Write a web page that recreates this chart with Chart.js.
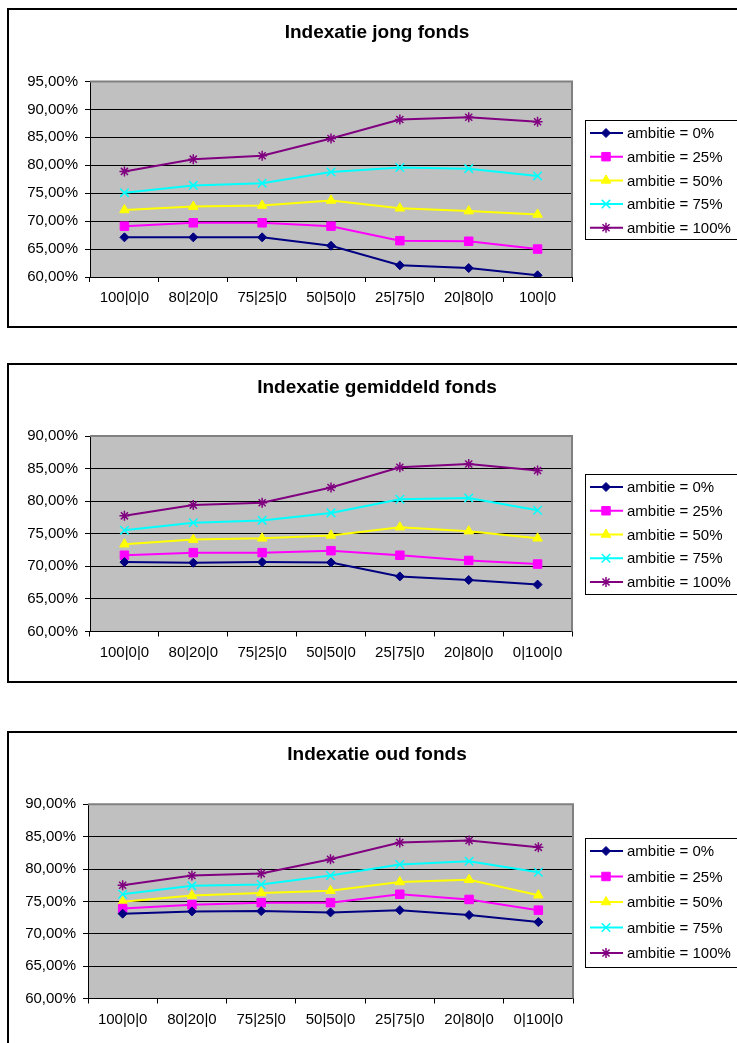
<!DOCTYPE html>
<html>
<head>
<meta charset="utf-8">
<title>Indexatie fondsen</title>
<script src="https://cdn.jsdelivr.net/npm/chart.js@4.4.0/dist/chart.umd.min.js"></script>
<style>
  html, body { margin: 0; padding: 0; background: #fff; overflow: hidden; }
  body { position: relative; width: 737px; height: 1043px; }
  .graph { position: absolute; left: 7px; width: 740px; height: 320px; border: 2px solid #000; box-sizing: border-box; background: #fff; }
  .graph canvas { display: block; }
</style>
</head>
<body>
<div class="graph" style="top:8px"><canvas id="chart1" width="736" height="316"></canvas></div>
<div class="graph" style="top:363px"><canvas id="chart2" width="736" height="316"></canvas></div>
<div class="graph" style="top:731px"><canvas id="chart3" width="736" height="316"></canvas></div>
<script>
// categories
const labelsJong = ['100|0|0', '80|20|0', '75|25|0', '50|50|0', '25|75|0', '20|80|0', '100|0'];
const labelsOther = ['100|0|0', '80|20|0', '75|25|0', '50|50|0', '25|75|0', '20|80|0', '0|100|0'];
const seriesNames = ['ambitie = 0%', 'ambitie = 25%', 'ambitie = 50%', 'ambitie = 75%', 'ambitie = 100%'];

// values in percent
const jong0 = [67.1, 67.1, 67.1, 65.6, 62.1, 61.6, 60.3];
const jong25 = [69.1, 69.7, 69.7, 69.1, 66.5, 66.4, 65.0];
const jong50 = [72.0, 72.6, 72.8, 73.7, 72.3, 71.8, 71.2];
const jong75 = [75.1, 76.4, 76.8, 78.8, 79.6, 79.4, 78.1];
const jong100 = [78.9, 81.1, 81.7, 84.8, 88.2, 88.6, 87.8];

const gem0 = [70.65, 70.55, 70.65, 70.6, 68.45, 67.9, 67.2];
const gem25 = [71.7, 72.1, 72.1, 72.4, 71.7, 70.9, 70.35];
const gem50 = [73.4, 74.1, 74.3, 74.75, 76.0, 75.4, 74.3];
const gem75 = [75.55, 76.7, 77.05, 78.2, 80.3, 80.5, 78.6];
const gem100 = [77.75, 79.4, 79.75, 82.1, 85.2, 85.7, 84.7];

const oud0 = [73.1, 73.45, 73.5, 73.3, 73.65, 72.9, 71.8];
const oud25 = [73.9, 74.5, 74.8, 74.8, 76.1, 75.3, 73.65];
const oud50 = [74.95, 75.9, 76.3, 76.65, 78.0, 78.35, 75.95];
const oud75 = [76.1, 77.4, 77.6, 79.0, 80.7, 81.2, 79.5];
const oud100 = [77.5, 79.0, 79.3, 81.5, 84.1, 84.4, 83.35];

// y axis ranges
const yJong = { min: 60, max: 95, step: 5 };
const yOther = { min: 60, max: 90, step: 5 };

const seriesColors = ['#000080', '#ff00ff', '#ffff00', '#00ffff', '#800080'];
const seriesMarkers = ['rectRot', 'rect', 'triangle', 'crossRot', 'star'];
const markerSizes = [4.5, 6, 5.5, 6, 5];
const markerBorders = [1, 1, 1, 1.5, 1.5];

const FONT = "'Liberation Sans', Arial, sans-serif";

// grey plot area like the spreadsheet
const plotBackground = {
    id: 'plotBackground',
    beforeDraw(chart) {
        const a = chart.chartArea;
        const ctx = chart.ctx;
        ctx.save();
        ctx.fillStyle = '#c0c0c0';
        ctx.fillRect(a.left, a.top, a.right - a.left, a.bottom - a.top);
        ctx.restore();
    },
    beforeDatasetsDraw(chart) {
        const a = chart.chartArea;
        const ctx = chart.ctx;
        ctx.save();
        ctx.strokeStyle = '#808080';
        ctx.lineWidth = 2;
        ctx.beginPath();
        ctx.moveTo(a.left, a.top);
        ctx.lineTo(a.right, a.top);
        ctx.lineTo(a.right, a.bottom);
        ctx.stroke();
        ctx.restore();
    }
};

// boxed legend with line + marker samples
const boxLegend = {
    id: 'boxLegend',
    afterDraw(chart, args, opts) {
        const ctx = chart.ctx;
        ctx.save();
        ctx.fillStyle = '#fff';
        ctx.fillRect(opts.left, opts.top, 200, opts.bottom - opts.top);
        ctx.strokeStyle = '#000';
        ctx.lineWidth = 1;
        ctx.strokeRect(opts.left + 0.5, opts.top + 0.5, 200, opts.bottom - opts.top);
        chart.data.datasets.forEach((ds, i) => {
            const y = opts.first + i * opts.spacing;
            ctx.strokeStyle = ds.borderColor;
            ctx.lineWidth = 2;
            ctx.beginPath();
            ctx.moveTo(opts.left + 5, y);
            ctx.lineTo(opts.left + 38, y);
            ctx.stroke();
            ctx.fillStyle = ds.pointBackgroundColor;
            ctx.strokeStyle = ds.pointBorderColor;
            ctx.lineWidth = ds.pointBorderWidth;
            Chart.helpers.drawPoint(ctx, {
                pointStyle: ds.pointStyle,
                radius: ds.pointRadius,
                rotation: 0,
                borderWidth: ds.pointBorderWidth
            }, opts.left + 21, y);
            ctx.fillStyle = '#000';
            ctx.font = '15px ' + FONT;
            ctx.textBaseline = 'middle';
            ctx.textAlign = 'left';
            ctx.fillText(ds.label, opts.left + 42, y + 1);
        });
        ctx.restore();
    }
};

const makeDatasets = (seriesValues) => {
    return seriesValues.map((values, i) => ({
        label: seriesNames[i],
        data: values,
        yAxisID: 'y',
        borderColor: seriesColors[i],
        backgroundColor: seriesColors[i],
        borderWidth: 2,
        tension: 0,
        pointStyle: seriesMarkers[i],
        pointRadius: markerSizes[i],
        pointHoverRadius: markerSizes[i],
        pointBackgroundColor: seriesColors[i],
        pointBorderColor: seriesColors[i],
        pointBorderWidth: markerBorders[i]
    }));
};

const makeChart = (id, title, labels, seriesValues, yRange, box) => {
    const ctx = document.getElementById(id).getContext('2d');
    return new Chart(ctx, {
        type: 'line',
        data: {
            labels: labels,
            datasets: makeDatasets(seriesValues)
        },
        plugins: [plotBackground, boxLegend],
        options: {
            responsive: false,
            animation: false,
            devicePixelRatio: 1,
            events: [],
            layout: {
                padding: 0
            },
            plugins: {
                legend: { display: false },
                tooltip: { enabled: false },
                title: {
                    display: true,
                    text: title,
                    color: '#000',
                    font: { family: FONT, size: 19, weight: 'bold' },
                    padding: { top: box.titleTop, bottom: box.plotTop - box.titleTop - 22.8 }
                },
                boxLegend: box.legend
            },
            scales: {
                x: {
                    offset: true,
                    afterFit: (axis) => { axis.height = 316 - box.plotBottom; },
                    grid: {
                        offset: true,
                        drawOnChartArea: false,
                        drawTicks: true,
                        tickLength: 5,
                        color: '#000'
                    },
                    border: { display: true, color: '#000', width: 1 },
                    ticks: {
                        color: '#000',
                        padding: 7,
                        maxRotation: 0,
                        autoSkip: false,
                        font: { family: FONT, size: 15 }
                    }
                },
                y: {
                    min: yRange.min,
                    max: yRange.max,
                    afterFit: (axis) => { axis.width = box.plotLeft; },
                    grid: {
                        color: (c) => (c.tick && c.tick.value === yRange.max ? '#808080' : '#000'),
                        tickColor: '#000',
                        tickLength: 5,
                        lineWidth: 1
                    },
                    border: { display: true, color: '#000', width: 1 },
                    ticks: {
                        stepSize: yRange.step,
                        color: '#000',
                        padding: 7,
                        font: { family: FONT, size: 15 },
                        callback: (value) => value.toFixed(2).replace('.', ',') + '%'
                    }
                },
                // empty axis on the right keeps room for the legend box
                legendSpace: {
                    axis: 'y',
                    position: 'right',
                    afterFit: (axis) => { axis.width = 736 - box.plotRight; },
                    grid: { display: false },
                    border: { display: false },
                    ticks: { display: false }
                }
            }
        }
    });
};

let chart1 = makeChart('chart1', 'Indexatie jong fonds', labelsJong,
    [jong0, jong25, jong50, jong75, jong100], yJong,
    { plotLeft: 81, plotRight: 563, plotTop: 71.5, plotBottom: 267, titleTop: 11.6,
      legend: { left: 576, top: 110, bottom: 229, first: 123, spacing: 23.7 } });

let chart2 = makeChart('chart2', 'Indexatie gemiddeld fonds', labelsOther,
    [gem0, gem25, gem50, gem75, gem100], yOther,
    { plotLeft: 81, plotRight: 563, plotTop: 71, plotBottom: 266.5, titleTop: 11.6,
      legend: { left: 576, top: 109, bottom: 229, first: 122, spacing: 23.75 } });

let chart3 = makeChart('chart3', 'Indexatie oud fonds', labelsOther,
    [oud0, oud25, oud50, oud75, oud100], yOther,
    { plotLeft: 79, plotRight: 564, plotTop: 71.3, plotBottom: 265.5, titleTop: 10.6,
      legend: { left: 576, top: 105, bottom: 234, first: 118, spacing: 25.5 } });
</script>
</body>
</html>
